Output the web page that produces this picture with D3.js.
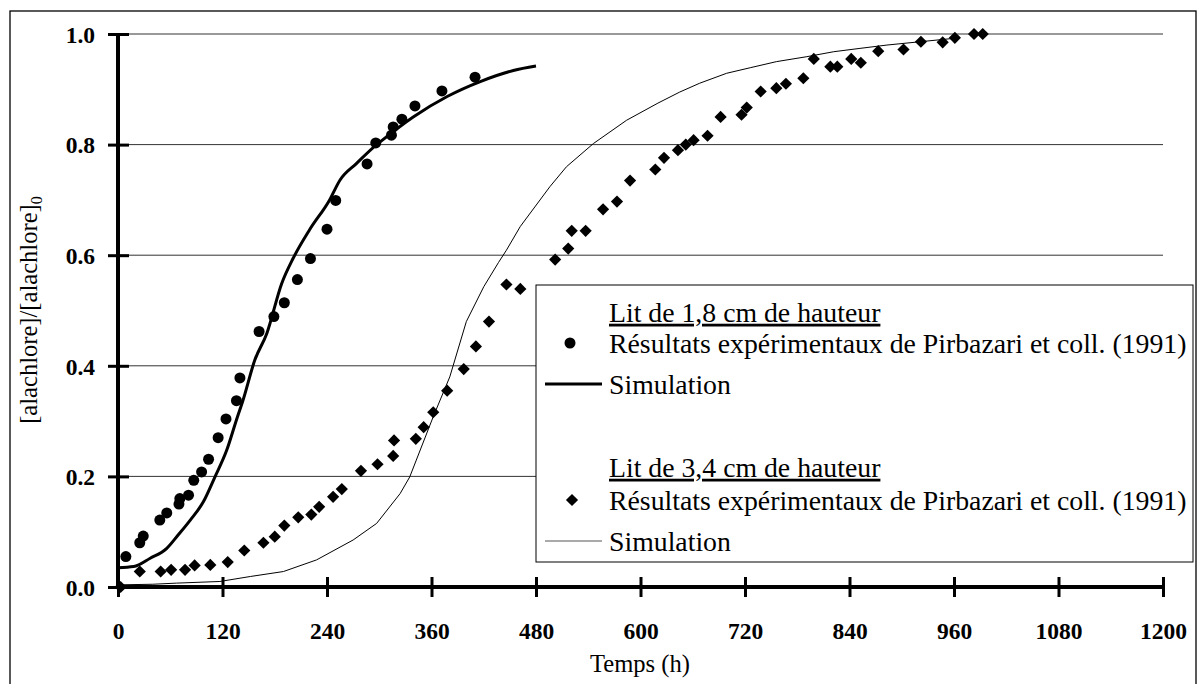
<!DOCTYPE html>
<html><head><meta charset="utf-8">
<script src="https://cdn.jsdelivr.net/npm/d3@7"></script>
<style>body{margin:0;background:#fff}svg{display:block}</style>
</head><body><svg id="c" width="1198" height="684"></svg>
<script>
// Lit de 1,8 cm : expérimental (cercles)
const lit18T = [9,25,29,48,56,70,71,81,87,96,104,115,124,136,140,162,179,191,206,221,240,250,286,296,314,316,326,341,372,410];
const lit18V = [0.055,0.080,0.092,0.121,0.134,0.150,0.160,0.166,0.193,0.208,0.231,0.270,0.304,0.337,0.378,0.462,0.489,0.514,0.556,0.594,0.647,0.699,0.765,0.803,0.817,0.832,0.846,0.870,0.897,0.922];
// Lit de 1,8 cm : simulation
const sim18T = [0,18,37,56,69,83,98,111,125,136,144,157,171,188,201,220,243,255,274,297,301,339,378,416,454,480];
const sim18V = [0.035,0.037,0.052,0.070,0.094,0.121,0.154,0.198,0.248,0.302,0.340,0.410,0.459,0.549,0.594,0.646,0.700,0.736,0.766,0.800,0.805,0.850,0.887,0.914,0.934,0.942];
// Lit de 3,4 cm : expérimental (losanges)
const lit34T = [3,25,49,61,77,88,106,126,145,167,180,191,207,222,231,247,257,279,298,316,317,342,351,362,378,397,411,426,446,462,502,517,521,537,557,573,588,617,627,643,652,661,677,692,716,722,738,756,767,787,799,818,826,842,853,873,902,922,947,961,983,993];
const lit34V = [0.0,0.028,0.028,0.031,0.031,0.039,0.040,0.045,0.066,0.080,0.091,0.111,0.126,0.131,0.145,0.163,0.177,0.210,0.222,0.237,0.265,0.268,0.289,0.316,0.355,0.394,0.435,0.480,0.547,0.539,0.592,0.612,0.644,0.644,0.683,0.697,0.735,0.755,0.776,0.790,0.800,0.808,0.816,0.850,0.854,0.867,0.896,0.902,0.910,0.920,0.955,0.941,0.941,0.955,0.948,0.969,0.972,0.986,0.985,0.993,1.0,1.0];
// Lit de 3,4 cm : simulation
const sim34T = [5,40,67,117,152,190,228,270,297,324,335,362,381,400,420,437,446,462,496,515,546,565,584,620,645,668,699,726,756,791,822,852,883,921,959];
const sim34V = [0.004,0.005,0.007,0.010,0.019,0.028,0.049,0.085,0.115,0.169,0.199,0.308,0.380,0.480,0.543,0.587,0.609,0.652,0.724,0.760,0.802,0.823,0.844,0.875,0.895,0.911,0.929,0.939,0.950,0.959,0.968,0.974,0.980,0.986,0.992];

const xTicks = [0,120,240,360,480,600,720,840,960,1080,1200];
const yTicks = [0,0.2,0.4,0.6,0.8,1.0];
const legendLabels = ["Lit de 1,8 cm de hauteur","Résultats expérimentaux de Pirbazari et coll. (1991)","Simulation","Lit de 3,4 cm de hauteur","Résultats expérimentaux de Pirbazari et coll. (1991)","Simulation"];
const xTitle = "Temps (h)";

const FONT = '"Liberation Serif","Times New Roman","DejaVu Serif","Noto Serif",serif';

// fit a font size so that a text's width matches the reference
function fit(sel, target, base){
  const w = sel.node().getComputedTextLength();
  return w > 0 ? base * target / w : base;
}

const svg = d3.select("#c");
const x = d3.scaleLinear().domain([0,1200]).range([118,1163]);
const y = d3.scaleLinear().domain([0,1]).range([587,34]);

// outer frame
svg.append("rect").attr("x",10).attr("y",11).attr("width",1186).attr("height",680)
  .attr("fill","#fff").attr("stroke","#000").attr("stroke-width",1.3);

// gridlines
svg.append("g").selectAll("line").data(yTicks.filter(d=>d>0)).join("line")
  .attr("x1",x(0)).attr("x2",x(1200)).attr("y1",d=>y(d)).attr("y2",d=>y(d))
  .attr("stroke","#333").attr("stroke-width",1);

// axes
const xAxis = svg.append("g").attr("transform",`translate(0,${y(0)})`)
  .call(d3.axisBottom(x).tickValues(xTicks).tickFormat(d3.format("d")));
xAxis.attr("font-family",null);
xAxis.select(".domain").remove();
xAxis.selectAll(".tick line").attr("y1",-10).attr("y2",10).attr("stroke","#000").attr("stroke-width",3);
const xt = xAxis.selectAll(".tick text").attr("y",52).attr("dy",0).attr("font-size",24).attr("font-weight","bold")
  .style("font-family",FONT).attr("fill","#000");
const tickSize = fit(xAxis.selectAll(".tick text").filter(d=>d===1200), 47, 24);
xt.attr("font-size",tickSize);
svg.append("line").attr("x1",x(0)).attr("x2",x(1200)).attr("y1",y(0)).attr("y2",y(0)).attr("stroke","#000").attr("stroke-width",4);

const yAxis = svg.append("g").attr("transform",`translate(${x(0)},0)`)
  .call(d3.axisLeft(y).tickValues(yTicks).tickFormat(d3.format(".1f")));
yAxis.attr("font-family",null);
yAxis.select(".domain").remove();
yAxis.selectAll(".tick line").attr("x1",-10).attr("x2",11).attr("stroke","#000").attr("stroke-width",3);
yAxis.selectAll(".tick text").attr("x",-23).attr("dy","0.35em").attr("font-size",tickSize).attr("font-weight","bold")
  .style("font-family",FONT).attr("fill","#000");
svg.append("line").attr("x1",x(0)).attr("x2",x(0)).attr("y1",y(1)).attr("y2",y(0)).attr("stroke","#000").attr("stroke-width",4);

// titles
const xtl = svg.append("text").attr("x",640).attr("y",672).attr("text-anchor","middle").attr("font-size",24)
  .style("font-family",FONT).attr("fill","#000").text(xTitle);
const titleSize = fit(xtl, 100, 24);
xtl.attr("font-size",titleSize);
const yt = svg.append("text").attr("transform","translate(37,310) rotate(-90)").attr("text-anchor","middle")
  .attr("font-size",titleSize).style("font-family",FONT).attr("fill","#000");
yt.append("tspan").text("[alachlore]/[alachlore]");
yt.append("tspan").attr("font-size",titleSize*0.66).attr("dy",5).text("0");

// lines
svg.append("path").datum(sim34T.map((t,i)=>[t,sim34V[i]]))
  .attr("d",d3.line().x(d=>x(d[0])).y(d=>y(d[1])))
  .attr("fill","none").attr("stroke","#000").attr("stroke-width",1);
svg.append("path").datum(sim18T.map((t,i)=>[t,sim18V[i]]))
  .attr("d",d3.line().curve(d3.curveMonotoneX).x(d=>x(d[0])).y(d=>y(d[1])))
  .attr("fill","none").attr("stroke","#000").attr("stroke-width",3);

// markers
const diamond = d3.symbol().type(d3.symbolDiamond2).size(95);
svg.append("g").selectAll("path").data(lit34T.map((t,i)=>[t,lit34V[i]])).join("path")
  .attr("d",diamond).attr("transform",d=>`translate(${x(d[0])},${y(d[1])})`).attr("fill","#000");
svg.append("g").selectAll("circle").data(lit18T.map((t,i)=>[t,lit18V[i]])).join("circle")
  .attr("cx",d=>x(d[0])).attr("cy",d=>y(d[1])).attr("r",5.5).attr("fill","#000");

// legend
const lg = svg.append("g");
lg.append("rect").attr("x",536).attr("y",285).attr("width",657).attr("height",277)
  .attr("fill","#fff").attr("stroke","#000").attr("stroke-width",1);
const rows = [312,343,384,467,500,541];
const lts = rows.map((ry,i)=>{
  const t = lg.append("text").attr("x",609).attr("y",ry).attr("dy","0.35em").attr("font-size",27.5)
    .style("font-family",FONT).attr("fill","#000").text(legendLabels[i]);
  if(i===0||i===3) t.attr("text-decoration","underline");
  return t;
});
const legSize = fit(lts[1], 578, 27.5);
lts.forEach(t=>t.attr("font-size",legSize));
lg.append("circle").attr("cx",570).attr("cy",rows[1]).attr("r",5.5).attr("fill","#000");
lg.append("line").attr("x1",545).attr("x2",602).attr("y1",rows[2]).attr("y2",rows[2]).attr("stroke","#000").attr("stroke-width",3);
lg.append("path").attr("d",diamond).attr("transform",`translate(572,${rows[4]})`).attr("fill","#000");
lg.append("line").attr("x1",545).attr("x2",602).attr("y1",rows[5]).attr("y2",rows[5]).attr("stroke","#555").attr("stroke-width",1);
</script></body></html>
